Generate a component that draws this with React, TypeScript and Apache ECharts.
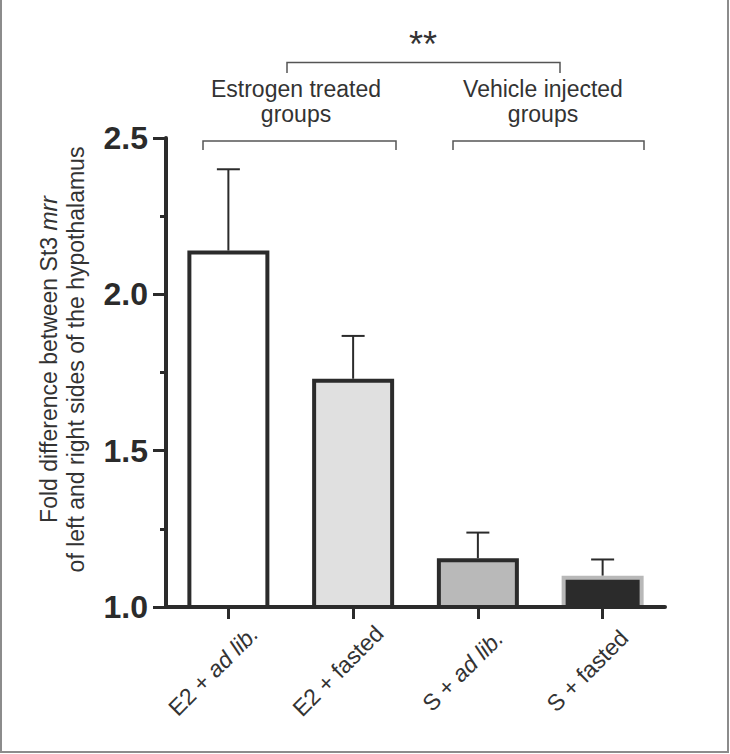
import React, { useEffect, useRef } from "react";
import * as echarts from "echarts";

const categories = ["E2 + ad lib.", "E2 + fasted", "S + ad lib.", "S + fasted"];
const means = [2.14, 1.73, 1.156, 1.1];
const upperErrors = [2.4, 1.867, 1.238, 1.152];
const fillColors = ["#ffffff", "#e0e0e0", "#b9b9b9", "#2b2b2b"];
const borderColors = ["#2b2b2b", "#2b2b2b", "#2b2b2b", "#b8b8b8"];
const yMin = 1.0;
const yMax = 2.5;
const yInterval = 0.5;
const groupLabels = ["Estrogen treated", "Vehicle injected"];
const significance = "**";

const FONT = '"Liberation Sans", Arial, Helvetica, sans-serif';
const DARK = "#2b2b2b";
const TEXT = "#333333";

export default function App() {
  const ref = useRef<HTMLDivElement>(null);
  useEffect(() => {
    if (!ref.current) return;
    const chart = echarts.init(ref.current, undefined, { renderer: "svg" });
    const bracketStyle = { stroke: "#555555", lineWidth: 1.5, fill: "none" };
    const option: any = {
      animation: false,
      backgroundColor: "#ffffff",
      textStyle: { fontFamily: FONT },
      grid: { left: 166, top: 138, width: 499, height: 469, containLabel: false },
      xAxis: {
        type: "category",
        data: categories,
        z: 5,
        axisLine: { show: true, lineStyle: { color: DARK, width: 4 } },
        axisTick: { show: true, alignWithLabel: true, length: 12, lineStyle: { color: DARK, width: 3 } },
        axisLabel: {
          interval: 0,
          rotate: 45,
          align: "center",
          verticalAlign: "bottom",
          margin: 79,
          padding: [0, 0, 10, 0],
          fontSize: 23,
          color: TEXT,
          fontFamily: FONT,
          formatter: (v: string) => v.replace("ad lib.", "{i|ad lib.}"),
          rich: { i: { fontStyle: "italic", fontSize: 23, color: TEXT, fontFamily: FONT } },
        },
      },
      yAxis: {
        type: "value",
        min: yMin,
        max: yMax,
        interval: yInterval,
        z: 5,
        splitLine: { show: false },
        axisLine: { show: true, lineStyle: { color: DARK, width: 4 } },
        axisTick: { show: true, length: 13, lineStyle: { color: DARK, width: 3 } },
        minorTick: { show: true, splitNumber: 2, length: 6, lineStyle: { color: DARK, width: 3 } },
        axisLabel: {
          margin: 18,
          fontSize: 32,
          fontWeight: "bold",
          color: DARK,
          fontFamily: FONT,
          formatter: (v: number) => v.toFixed(1),
        },
        name: "Fold difference between St3 {i|mrr}\nof left and right sides of the hypothalamus",
        nameLocation: "middle",
        nameRotate: 90,
        nameGap: 77,
        nameTextStyle: {
          fontSize: 23,
          color: TEXT,
          fontFamily: FONT,
          lineHeight: 27,
          padding: [0, 0, 0, 26],
          rich: { i: { fontStyle: "italic", fontSize: 23, color: TEXT, lineHeight: 27, fontFamily: FONT } },
        },
      },
      series: [
        {
          type: "bar",
          barWidth: 82,
          data: means.map((m, i) => ({
            value: m,
            itemStyle: { color: fillColors[i], borderColor: borderColors[i], borderWidth: 4 },
          })),
        },
        {
          type: "custom",
          data: categories.map((c, i) => [i, means[i], upperErrors[i]]),
          renderItem: (params: any, api: any) => {
            const idx = api.value(0);
            const base = api.coord([idx, api.value(1)]);
            const top = api.coord([idx, api.value(2)]);
            const half = 11.5;
            return {
              type: "group",
              children: [
                { type: "line", shape: { x1: base[0], y1: base[1], x2: top[0], y2: top[1] }, style: { stroke: DARK, lineWidth: 2 } },
                { type: "line", shape: { x1: top[0] - half, y1: top[1], x2: top[0] + half, y2: top[1] }, style: { stroke: DARK, lineWidth: 2 } },
              ],
            };
          },
        },
      ],
      graphic: [
        { type: "rect", silent: true, z: 100, shape: { x: 1, y: -5, width: 727, height: 757 }, style: { fill: "none", stroke: "#8c8c8c", lineWidth: 2 } },
        { type: "polyline", silent: true, shape: { points: [[287, 73], [287, 62.5], [560, 62.5], [560, 73]] }, style: bracketStyle },
        { type: "polyline", silent: true, shape: { points: [[203, 150], [203, 141], [396, 141], [396, 150]] }, style: bracketStyle },
        { type: "polyline", silent: true, shape: { points: [[453, 150], [453, 141], [644, 141], [644, 150]] }, style: bracketStyle },
        { type: "text", silent: true, x: 423, y: 44, style: { text: significance, font: `36px ${FONT}`, fill: TEXT, align: "center", verticalAlign: "middle" } },
        { type: "text", silent: true, x: 296, y: 89, style: { text: groupLabels[0], font: `23px ${FONT}`, fill: TEXT, align: "center", verticalAlign: "middle" } },
        { type: "text", silent: true, x: 296, y: 114, style: { text: "groups", font: `23px ${FONT}`, fill: TEXT, align: "center", verticalAlign: "middle" } },
        { type: "text", silent: true, x: 543, y: 89, style: { text: groupLabels[1], font: `23px ${FONT}`, fill: TEXT, align: "center", verticalAlign: "middle" } },
        { type: "text", silent: true, x: 543, y: 114, style: { text: "groups", font: `23px ${FONT}`, fill: TEXT, align: "center", verticalAlign: "middle" } },
      ],
    };
    chart.setOption(option);
    return () => chart.dispose();
  }, []);
  return (
    <div style={{ position: "absolute", left: 0, top: 0, width: 730, height: 754, background: "#fff" }}>
      <div ref={ref} style={{ width: 730, height: 754 }} />
    </div>
  );
}
